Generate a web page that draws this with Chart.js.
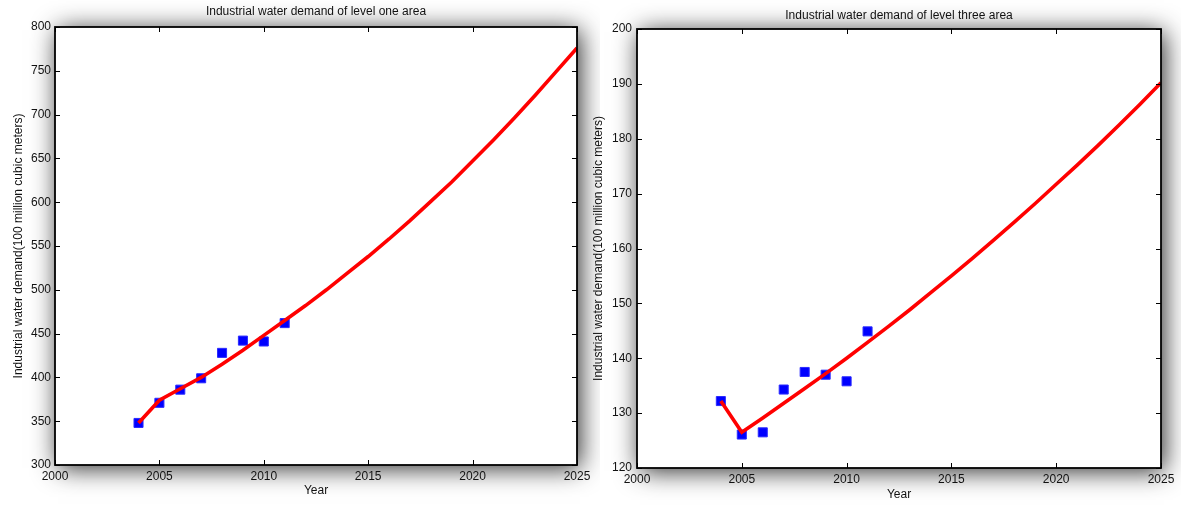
<!DOCTYPE html>
<html>
<head>
<meta charset="utf-8">
<title>Industrial water demand</title>
<script src="https://cdn.jsdelivr.net/npm/chart.js@4.4.1/dist/chart.umd.min.js"></script>
<style>
  html, body { margin: 0; padding: 0; background: #ffffff; overflow: hidden; }
  body { width: 1181px; height: 505px; position: relative; }
  canvas { position: absolute; top: 0; }
  #levelOne { left: 0; }
  #levelThree { left: 590px; }
</style>
</head>
<body>
<canvas id="levelOne" width="600" height="505"></canvas>
<canvas id="levelThree" width="591" height="505"></canvas>
<script>
// Observed years and measured industrial water demand (100 million m³)
const observedYears = [2004, 2005, 2006, 2007, 2008, 2009, 2010, 2011];
const levelOneObserved = [348, 371, 386, 399, 428, 442, 441, 462];
const levelThreeObserved = [132.2, 126.1, 126.5, 134.3, 137.5, 137.0, 135.8, 144.9];

// Model curve, one value per year
const fittedYears = [2004, 2005, 2006, 2007, 2008, 2009, 2010, 2011, 2012, 2013, 2014,
                     2015, 2016, 2017, 2018, 2019, 2020, 2021, 2022, 2023, 2024, 2025];
const levelOneFitted = [348, 374, 387, 400, 415, 431, 448, 465, 482, 500, 519,
                        538, 558, 579, 601, 623, 647, 671, 696, 722, 749, 776];
const levelThreeFitted = [132.2, 126.5, 129.1, 131.8, 134.5, 137.2, 140.0, 142.9, 145.8, 148.8, 151.9,
                          155.0, 158.2, 161.5, 164.8, 168.2, 171.7, 175.2, 178.8, 182.5, 186.3, 190.2];

// Tick labels
const yearTicks = [2000, 2005, 2010, 2015, 2020, 2025];
const levelOneTicks = [300, 350, 400, 450, 500, 550, 600, 650, 700, 750, 800];
const levelThreeTicks = [120, 130, 140, 150, 160, 170, 180, 190, 200];

const TEXT_FONT = { family: '"Liberation Sans", Arial, Helvetica, sans-serif', size: 12 };
const TEXT_COLOR = '#111111';

const toPoints = (xs, ys) => xs.map((x, i) => ({ x, y: ys[i] }));

// White plot box with a soft drop shadow behind it
const boxShadow = {
  id: 'boxShadow',
  beforeDraw(chart) {
    const { ctx, chartArea: a } = chart;
    ctx.save();
    ctx.shadowColor = 'rgba(0,0,0,0.85)';
    ctx.shadowBlur = 24;
    ctx.shadowOffsetX = 3;
    ctx.shadowOffsetY = 3;
    ctx.fillStyle = '#ffffff';
    ctx.fillRect(a.left, a.top, a.right - a.left, a.bottom - a.top);
    ctx.restore();
  }
};

// Closed black frame with inward tick marks on all four sides
const boxFrame = {
  id: 'boxFrame',
  afterDraw(chart) {
    const { ctx, chartArea: a, scales } = chart;
    const len = 5;
    ctx.save();
    ctx.strokeStyle = '#000000';
    ctx.lineWidth = 1;
    ctx.beginPath();
    scales.x.ticks.forEach(t => {
      const px = Math.round(scales.x.getPixelForValue(t.value)) + 0.5;
      ctx.moveTo(px, a.bottom); ctx.lineTo(px, a.bottom - len);
      ctx.moveTo(px, a.top); ctx.lineTo(px, a.top + len);
    });
    scales.y.ticks.forEach(t => {
      const py = Math.round(scales.y.getPixelForValue(t.value)) + 0.5;
      ctx.moveTo(a.left, py); ctx.lineTo(a.left + len, py);
      ctx.moveTo(a.right, py); ctx.lineTo(a.right - len, py);
    });
    ctx.stroke();
    ctx.lineWidth = 1.8;
    ctx.strokeRect(a.left, a.top, a.right - a.left, a.bottom - a.top);
    ctx.restore();
  }
};

function buildChart(canvasId, opts) {
  return new Chart(document.getElementById(canvasId), {
    type: 'scatter',
    data: {
      datasets: [
        {
          label: 'fitted',
          data: toPoints(fittedYears, opts.fitted),
          showLine: true,
          borderColor: '#ff0000',
          borderWidth: 3.6,
          pointRadius: 0,
          tension: 0,
          order: 0
        },
        {
          label: 'observed',
          data: toPoints(observedYears, opts.observed),
          showLine: false,
          pointStyle: 'rect',
          pointRadius: 6.4,
          backgroundColor: '#0000ff',
          borderColor: '#2a2aff',
          borderWidth: 1,
          order: 1
        }
      ]
    },
    options: {
      responsive: false,
      animation: false,
      devicePixelRatio: 1,
      layout: { padding: { left: 0, right: opts.padRight, top: 0, bottom: 0 } },
      plugins: { legend: { display: false }, tooltip: { enabled: false }, title: { display: false } },
      scales: {
        x: {
          type: 'linear',
          position: 'bottom',
          min: 2000,
          max: 2025,
          afterBuildTicks: s => { s.ticks = yearTicks.map(value => ({ value })); },
          ticks: { callback: v => String(v), padding: 4, font: TEXT_FONT, color: TEXT_COLOR, maxRotation: 0 },
          grid: { display: false, drawTicks: false },
          border: { display: false },
          title: { display: true, text: 'Year', font: TEXT_FONT, color: TEXT_COLOR, padding: { top: 0, bottom: opts.yearPad } },
          afterFit: s => { s.height = opts.bottomH; }
        },
        x2: {
          type: 'linear',
          position: 'top',
          min: 2000,
          max: 2025,
          ticks: { display: false },
          grid: { display: false, drawTicks: false },
          border: { display: false },
          title: { display: true, text: opts.title, font: TEXT_FONT, color: TEXT_COLOR, padding: { top: opts.titlePad, bottom: 0 } },
          afterFit: s => { s.height = opts.topH; }
        },
        y: {
          type: 'linear',
          position: 'left',
          min: opts.yTicks[0],
          max: opts.yTicks[opts.yTicks.length - 1],
          afterBuildTicks: s => { s.ticks = opts.yTicks.map(value => ({ value })); },
          ticks: { callback: v => String(v), padding: opts.yLabelPad, font: TEXT_FONT, color: TEXT_COLOR },
          grid: { display: false, drawTicks: false },
          border: { display: false },
          title: {
            display: true,
            text: 'Industrial water demand(100 million cubic meters)',
            font: TEXT_FONT,
            color: TEXT_COLOR,
            padding: { top: opts.yTitlePad, bottom: 0 }
          },
          afterFit: s => { s.width = opts.leftW; }
        }
      }
    },
    plugins: [boxShadow, boxFrame]
  });
}

buildChart('levelOne', {
  title: 'Industrial water demand of level one area',
  observed: levelOneObserved,
  fitted: levelOneFitted,
  yTicks: levelOneTicks,
  padRight: 23,
  leftW: 55,
  topH: 27,
  bottomH: 40,
  titlePad: 4,
  yearPad: 7,
  yLabelPad: 4,
  yTitlePad: 11
});

buildChart('levelThree', {
  title: 'Industrial water demand of level three area',
  observed: levelThreeObserved,
  fitted: levelThreeFitted,
  yTicks: levelThreeTicks,
  padRight: 20,
  leftW: 47,
  topH: 29,
  bottomH: 37,
  titlePad: 8,
  yearPad: 3,
  yLabelPad: 5,
  yTitlePad: 1
});
</script>
</body>
</html>
